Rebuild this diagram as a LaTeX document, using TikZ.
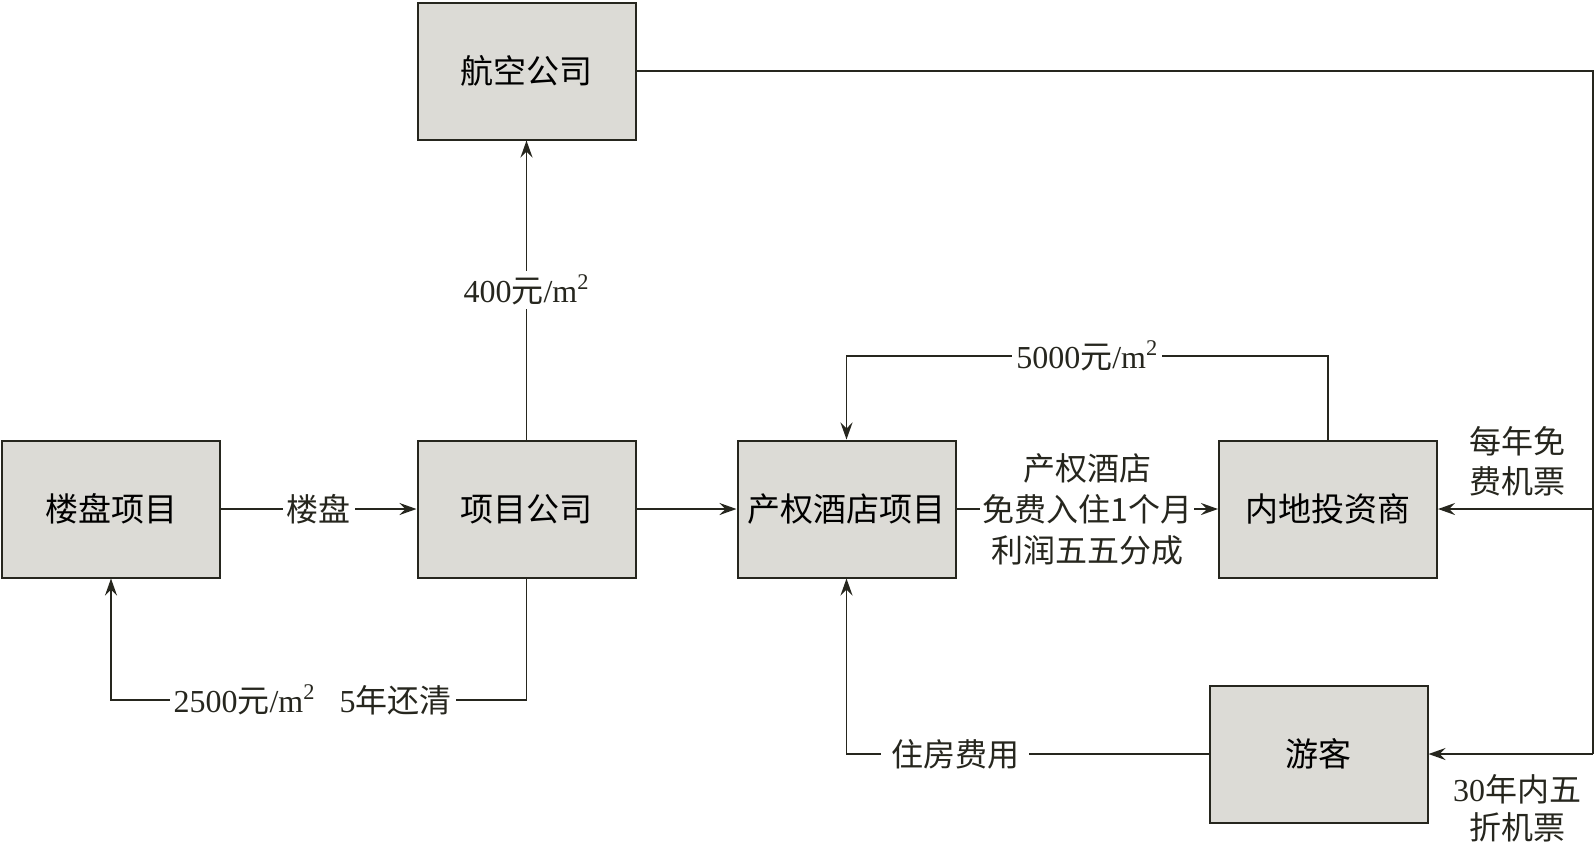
\documentclass[tikz,border=0pt]{standalone}
\usepackage{fontspec}
\setmainfont{Liberation Serif}
\newfontfamily\cjk{Noto Sans CJK SC}
\newcommand\zh[1]{{\cjk #1}}
\usetikzlibrary{arrows.meta}
\definecolor{boxfill}{HTML}{DCDBD6}
\definecolor{ink}{HTML}{26261E}
\begin{document}
\begin{tikzpicture}[x=0.5pt,y=-0.5pt,
  font=\fontsize{16}{19}\selectfont,
  box/.style={draw=ink,fill=boxfill,line width=1pt,minimum width=109pt,minimum height=68.5pt,inner sep=0pt,font=\fontsize{16.5}{20}\selectfont\cjk},
  conn/.style={draw=ink,line width=0.9pt},
  arr/.style={conn,-{Stealth[length=8.5pt,width=6pt,inset=3pt]}},
  lbl/.style={fill=white,inner sep=2pt,text=ink,align=center},
]
\useasboundingbox (0,0) rectangle (1596,843);
\node[box] (air) at (526.5,71) {航空公司};
\node[box] (lp) at (111,509) {楼盘项目};
\node[box] (xm) at (526.5,509) {项目公司};
\node[box] (cq) at (846.5,509) {产权酒店项目};
\node[box] (nd) at (1328,509) {内地投资商};
\node[box] (yk) at (1318.5,754) {游客};

\coordinate (c1) at (526.5,700);
\coordinate (c2) at (111,700);
\coordinate (c3) at (1328,356);
\coordinate (c4) at (846.5,356);
\coordinate (c5) at (846.5,754);
\coordinate (r1) at (1593,71);
\coordinate (r2) at (1593,509);
\coordinate (r3) at (1593,754);

% 楼盘
\draw[arr] (lp) -- node[lbl] {\zh{楼盘}} (xm);
% 400
\draw[arr] (xm) -- node[lbl,pos=0.5] {400\zh{元}/m\textsuperscript{2}} (air);
% xm -> cq
\draw[arr] (xm) -- (cq);
% loop bottom
\draw[arr] (xm.south) -- (c1) -- node[lbl,pos=0.515] {2500\zh{元}/m\textsuperscript{2}\hspace{12pt}5\zh{年还清}} (c2) -- (lp.south);
% 5000
\draw[arr] (nd.north) -- (c3) -- node[lbl,pos=0.5] {5000\zh{元}/m\textsuperscript{2}} (c4) -- (cq.north);
% cq -> nd
\draw[arr] (cq) -- node[lbl,inner sep=1pt,font=\fontsize{16}{20.5}\selectfont\cjk] {产权酒店\\免费入住1个月\\利润五五分成} (nd);
% 游客 -> cq
\draw[arr] (yk.west) -- node[lbl,pos=0.7,inner xsep=5pt] {\zh{住房费用}} (c5) -- (cq.south);
% right side
\draw[conn] (air.east) -- (r1) -- (r3);
\draw[arr] (r2) -- (nd.east);
\draw[arr] (r3) -- (yk.east);
\node[lbl,font=\fontsize{16}{20}\selectfont\cjk,fill=none] (t1) at (1517,461) {每年免\\费机票};
\node[lbl,fill=none] (t2) at (1517,808) {30\zh{年内五}\\\zh{折机票}};
\end{tikzpicture}
\end{document}
